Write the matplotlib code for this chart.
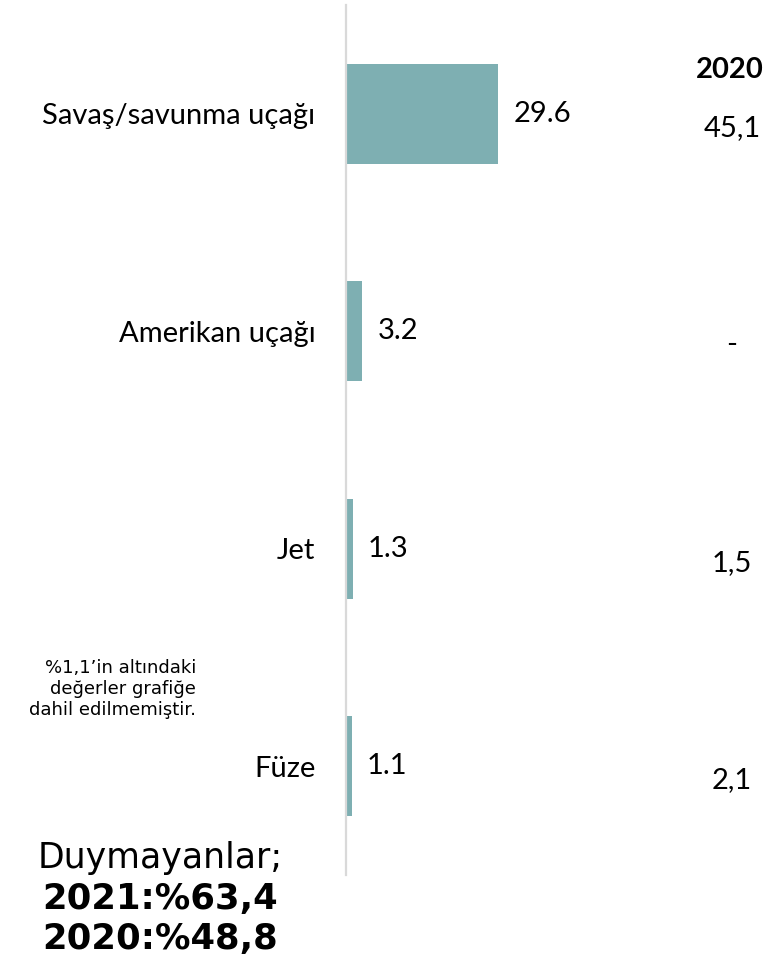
import matplotlib
matplotlib.use("Agg")
import matplotlib.pyplot as plt
import matplotlib.transforms as mtransforms

# data
categories = ['Savaş/savunma uçağı', 'Amerikan uçağı', 'Jet', 'Füze']
values_2021 = [29.6, 3.2, 1.3, 1.1]
values_2020 = ['45,1', '-', '1,5', '2,1']
header_2020 = '2020'
note_text = '%1,1’in altındaki\ndeğerler grafiğe\ndahil edilmemiştir.'
summary_title = 'Duymayanlar;'
summary_lines = '2021:%63,4\n2020:%48,8'

BAR_COLOR = '#7EAFB2'
LABEL_FONT = ['Lato', 'DejaVu Sans']

fig = plt.figure(figsize=(7.74, 9.59), dpi=100)
ax = fig.add_axes([346 / 774, 84 / 959, 428 / 774, 870 / 959])

y = list(range(len(categories)))
ax.barh(y, values_2021, height=0.46, color=BAR_COLOR, zorder=2)
ax.set_xlim(0, 83.3)
ax.set_ylim(3.5, -0.5)

for spine in ['top', 'right', 'bottom']:
    ax.spines[spine].set_visible(False)
ax.spines['left'].set_color('#d9d9d9')
ax.spines['left'].set_linewidth(1.6)
ax.set_xticks([])
ax.set_yticks(y)
ax.set_yticklabels(categories, fontsize=21, family=LABEL_FONT)
ax.tick_params(axis='y', length=0, pad=22)

# value labels next to the bars
for yi, v in zip(y, values_2021):
    ax.annotate(f'{v:.1f}', (v, yi), xytext=(11, 0), textcoords='offset points',
                va='center', ha='left', fontsize=21, family=LABEL_FONT)

# 2020 column on the right
blend = mtransforms.blended_transform_factory(fig.transFigure, ax.transData)
ax.text(730 / 774, -0.2, header_2020, transform=blend, ha='center', va='center',
        fontsize=21, fontweight='bold', family=LABEL_FONT)
for yi, s in zip(y, values_2020):
    ax.text(732 / 774, yi + 0.065, s, transform=blend, ha='center', va='center',
            fontsize=21, family=LABEL_FONT)

# note and summary
fig.text(196 / 774, 1 - 689 / 959, note_text, ha='right', va='center',
         fontsize=13, linespacing=1.2, family='DejaVu Sans')
fig.text(160 / 774, 1 - 858 / 959, summary_title, ha='center', va='center',
         fontsize=25, family='DejaVu Sans')
fig.text(160 / 774, 1 - 919 / 959, summary_lines, ha='center', va='center',
         fontsize=25.5, fontweight='bold', linespacing=1.25, family='DejaVu Sans')

fig.savefig('out.png', dpi=100)
